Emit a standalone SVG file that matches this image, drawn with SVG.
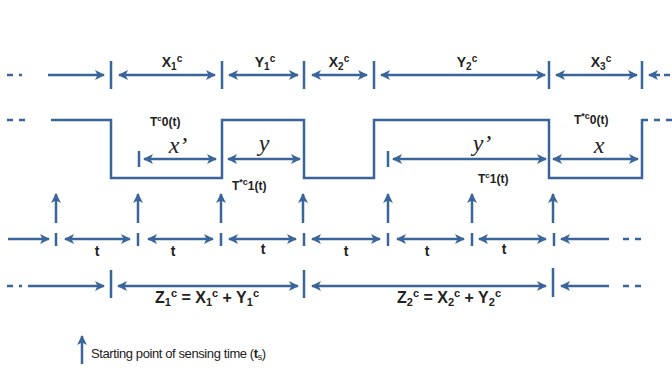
<svg xmlns="http://www.w3.org/2000/svg" width="672" height="369" viewBox="0 0 672 369">
<defs>
<marker id="ah" viewBox="0 0 10 10" refX="9" refY="5" markerWidth="12" markerHeight="10" markerUnits="userSpaceOnUse" orient="auto-start-reverse">
<path d="M0,0 L10,5 L0,10 L2.5,5 z" fill="#3A659A"/>
</marker>
</defs>
<style>
.l{stroke:#3A659A;stroke-width:2.5;fill:none}
.a{stroke:#3A659A;stroke-width:2.5;fill:none;marker-end:url(#ah)}
.d{stroke:#3A659A;stroke-width:2.5;fill:none;marker-start:url(#ah);marker-end:url(#ah)}
.k{stroke:#3A659A;stroke-width:2.5;stroke-dasharray:6 6;fill:none}
.lb{font-family:"Liberation Sans",Arial,sans-serif;font-weight:bold;font-size:14px;fill:#222}
.zb{font-family:"Liberation Sans",Arial,sans-serif;font-weight:bold;font-size:16px;fill:#222}
.sm{font-family:"Liberation Sans",Arial,sans-serif;font-weight:bold;font-size:12px;fill:#222}
.it{font-family:"Liberation Serif","DejaVu Serif",serif;font-style:italic;font-size:24px;fill:#222}
.lg{font-family:"Liberation Sans",Arial,sans-serif;font-size:13px;letter-spacing:-0.4px;fill:#222}
</style>
<g id="connectors">
<line class="k" x1="7" y1="75" x2="22" y2="75"/>
<line class="a" x1="48" y1="75" x2="104" y2="75"/>
<line class="l" x1="111" y1="61" x2="111" y2="89"/>
<line class="d" x1="119" y1="75" x2="215" y2="75"/>
<line class="l" x1="222" y1="61" x2="222" y2="89"/>
<line class="d" x1="229" y1="75" x2="298" y2="75"/>
<line class="l" x1="304" y1="61" x2="304" y2="89"/>
<line class="d" x1="312" y1="75" x2="367" y2="75"/>
<line class="l" x1="374" y1="61" x2="374" y2="89"/>
<line class="d" x1="381" y1="75" x2="545" y2="75"/>
<line class="l" x1="549" y1="61" x2="549" y2="89"/>
<line class="d" x1="556" y1="75" x2="637" y2="75"/>
<line class="l" x1="642" y1="61" x2="642" y2="89"/>
<line class="a" x1="660" y1="75" x2="649" y2="75"/>
<line class="k" x1="664" y1="75" x2="676" y2="75"/>
<line class="k" x1="7" y1="120" x2="30" y2="120"/>
<polyline class="l" points="51,120 111,120 111,178 222,178 222,120 304,120 304,178 374,178 374,120 549,120 549,178 642,178 642,120 648,120"/>
<line class="k" x1="654" y1="120" x2="672" y2="120"/>
<line class="l" x1="139" y1="151" x2="139" y2="167"/>
<line class="d" x1="144" y1="159" x2="216" y2="159"/>
<line class="d" x1="228" y1="159" x2="300" y2="159"/>
<line class="l" x1="388" y1="151" x2="388" y2="167"/>
<line class="d" x1="393" y1="159" x2="546" y2="159"/>
<line class="d" x1="553" y1="159" x2="638" y2="159"/>
<line class="a" x1="56" y1="223" x2="56" y2="194"/>
<line class="a" x1="138" y1="223" x2="138" y2="194"/>
<line class="a" x1="221" y1="223" x2="221" y2="194"/>
<line class="a" x1="303" y1="223" x2="303" y2="194"/>
<line class="a" x1="388" y1="223" x2="388" y2="194"/>
<line class="a" x1="472" y1="223" x2="472" y2="194"/>
<line class="a" x1="553" y1="223" x2="553" y2="194"/>
<line class="a" x1="8" y1="239" x2="49" y2="239"/>
<line class="l" x1="56" y1="233" x2="56" y2="246"/>
<line class="d" x1="65" y1="239" x2="130" y2="239"/>
<line class="l" x1="138" y1="233" x2="138" y2="246"/>
<line class="d" x1="148" y1="239" x2="213" y2="239"/>
<line class="l" x1="221" y1="233" x2="221" y2="246"/>
<line class="d" x1="229" y1="239" x2="296" y2="239"/>
<line class="l" x1="304" y1="233" x2="304" y2="246"/>
<line class="d" x1="312" y1="239" x2="380" y2="239"/>
<line class="l" x1="388" y1="233" x2="388" y2="246"/>
<line class="d" x1="397" y1="239" x2="464" y2="239"/>
<line class="l" x1="472" y1="233" x2="472" y2="246"/>
<line class="d" x1="479" y1="239" x2="546" y2="239"/>
<line class="l" x1="554" y1="233" x2="554" y2="246"/>
<line class="a" x1="609" y1="239" x2="561" y2="239"/>
<line class="k" x1="623" y1="239" x2="645" y2="239"/>
<line class="k" x1="7" y1="286" x2="22" y2="286"/>
<line class="a" x1="28" y1="286" x2="104" y2="286"/>
<line class="l" x1="111" y1="270" x2="111" y2="298"/>
<line class="d" x1="118" y1="286" x2="298" y2="286"/>
<line class="l" x1="304" y1="270" x2="304" y2="298"/>
<line class="d" x1="312" y1="286" x2="546" y2="286"/>
<line class="l" x1="553" y1="268" x2="553" y2="297"/>
<line class="a" x1="609" y1="286" x2="561" y2="286"/>
<line class="k" x1="623" y1="286" x2="645" y2="286"/>
</g>
<g id="labels-top">
<text class="lb" x="172" y="67" text-anchor="middle">X<tspan font-size="10" dy="3">1</tspan><tspan font-size="10" dy="-8">c</tspan></text>
<text class="lb" x="265" y="67" text-anchor="middle">Y<tspan font-size="10" dy="3">1</tspan><tspan font-size="10" dy="-8">c</tspan></text>
<text class="lb" x="339" y="67" text-anchor="middle">X<tspan font-size="10" dy="3">2</tspan><tspan font-size="10" dy="-8">c</tspan></text>
<text class="lb" x="467" y="67" text-anchor="middle">Y<tspan font-size="10" dy="3">2</tspan><tspan font-size="10" dy="-8">c</tspan></text>
<text class="lb" x="601" y="67" text-anchor="middle">X<tspan font-size="10" dy="3">3</tspan><tspan font-size="10" dy="-8">c</tspan></text>
</g>
<g id="labels-wave">
<text class="sm" x="150" y="126">T<tspan font-size="8" dy="-5">c</tspan><tspan dy="5">0(t)</tspan></text>
<text class="sm" x="232" y="190">T<tspan font-size="9" dy="-5">*c</tspan><tspan dy="5">1(t)</tspan></text>
<text class="sm" x="574" y="124">T<tspan font-size="9" dy="-5">*c</tspan><tspan dy="5">0(t)</tspan></text>
<text class="sm" x="478" y="183">T<tspan font-size="8" dy="-5">c</tspan><tspan dy="5">1(t)</tspan></text>
<text class="it" x="178" y="153" text-anchor="middle">x’</text>
<text class="it" x="264" y="151" text-anchor="middle">y</text>
<text class="it" x="482" y="151" text-anchor="middle">y’</text>
<text class="it" x="599" y="153" text-anchor="middle">x</text>
</g>
<g id="labels-t">
<text class="lb" x="97" y="256" text-anchor="middle">t</text>
<text class="lb" x="173" y="256" text-anchor="middle">t</text>
<text class="lb" x="263" y="254" text-anchor="middle">t</text>
<text class="lb" x="346" y="256" text-anchor="middle">t</text>
<text class="lb" x="427" y="256" text-anchor="middle">t</text>
<text class="lb" x="504" y="254" text-anchor="middle">t</text>
</g>
<g id="labels-z">
<text class="zb" x="207" y="303" text-anchor="middle">Z<tspan font-size="11" dy="3">1</tspan><tspan font-size="11" dy="-9">c</tspan><tspan dy="6"> = X</tspan><tspan font-size="11" dy="3">1</tspan><tspan font-size="11" dy="-9">c</tspan><tspan dy="6"> + Y</tspan><tspan font-size="11" dy="3">1</tspan><tspan font-size="11" dy="-9">c</tspan></text>
<text class="zb" x="449" y="303" text-anchor="middle">Z<tspan font-size="11" dy="3">2</tspan><tspan font-size="11" dy="-9">c</tspan><tspan dy="6"> = X</tspan><tspan font-size="11" dy="3">2</tspan><tspan font-size="11" dy="-9">c</tspan><tspan dy="6"> + Y</tspan><tspan font-size="11" dy="3">2</tspan><tspan font-size="11" dy="-9">c</tspan></text>
</g>
<g id="legend">
<line class="a" x1="82" y1="364" x2="82" y2="336" style="stroke-width:2.5"/>
<text class="lg" x="91" y="358">Starting point of sensing time (<tspan font-weight="bold">t</tspan><tspan font-size="9" dy="2">s</tspan><tspan dy="-2">)</tspan></text>
</g>
</svg>
